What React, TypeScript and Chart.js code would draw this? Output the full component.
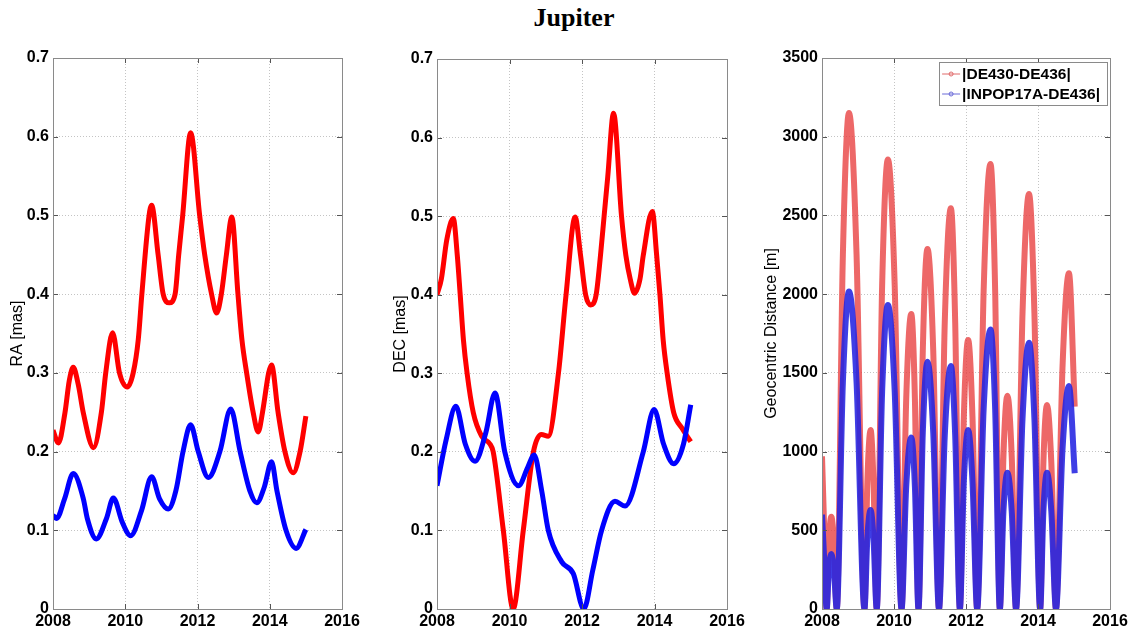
import React, { useEffect, useRef } from 'react';
import { Chart, registerables } from 'chart.js';

Chart.register(...registerables);

const chartTitle = 'Jupiter';

const xTicks = [2008, 2010, 2012, 2014, 2016];
const xTickLabels = ['2008', '2010', '2012', '2014', '2016'];
const masTicks = [0, 0.1, 0.2, 0.3, 0.4, 0.5, 0.6, 0.7];
const masTickLabels = ['0', '0.1', '0.2', '0.3', '0.4', '0.5', '0.6', '0.7'];
const distTicks = [0, 500, 1000, 1500, 2000, 2500, 3000, 3500];
const distTickLabels = ['0', '500', '1000', '1500', '2000', '2500', '3000', '3500'];

const seriesNames = ['|DE430-DE436|', '|INPOP17A-DE436|'];

// RA panel
const raRedYears = [2008.0, 2008.15, 2008.33, 2008.45, 2008.56, 2008.7, 2008.84, 2009.12, 2009.34, 2009.46, 2009.65, 2009.84, 2010.06, 2010.22, 2010.36, 2010.46, 2010.66, 2010.73, 2010.91, 2011.05, 2011.22, 2011.38, 2011.48, 2011.59, 2011.81, 2012.06, 2012.2, 2012.39, 2012.53, 2012.66, 2012.8, 2012.95, 2013.12, 2013.23, 2013.36, 2013.54, 2013.68, 2013.8, 2013.97, 2014.05, 2014.23, 2014.42, 2014.65, 2014.84, 2015.0];
const raRedValues = [0.227, 0.211, 0.249, 0.29, 0.307, 0.285, 0.249, 0.205, 0.25, 0.3, 0.351, 0.3, 0.282, 0.3, 0.342, 0.4, 0.5, 0.513, 0.45, 0.4, 0.389, 0.4, 0.45, 0.5, 0.605, 0.5, 0.45, 0.4, 0.376, 0.4, 0.45, 0.498, 0.4, 0.342, 0.3, 0.25, 0.225, 0.25, 0.3, 0.31, 0.25, 0.2, 0.173, 0.2, 0.245];
const raBlueYears = [2008.0, 2008.1, 2008.32, 2008.56, 2008.84, 2008.95, 2009.2, 2009.48, 2009.67, 2009.92, 2010.15, 2010.45, 2010.73, 2010.95, 2011.19, 2011.4, 2011.6, 2011.81, 2012.02, 2012.3, 2012.62, 2012.92, 2013.18, 2013.45, 2013.64, 2013.85, 2014.05, 2014.2, 2014.45, 2014.73, 2015.0];
const raBlueValues = [0.119, 0.115, 0.14, 0.172, 0.14, 0.115, 0.089, 0.115, 0.141, 0.11, 0.093, 0.125, 0.168, 0.14, 0.127, 0.15, 0.2, 0.234, 0.2, 0.167, 0.2, 0.254, 0.2, 0.15, 0.135, 0.155, 0.187, 0.15, 0.1, 0.077, 0.101];

// DEC panel
const decRedYears = [2008.0, 2008.12, 2008.27, 2008.45, 2008.56, 2008.64, 2008.73, 2008.83, 2009.0, 2009.23, 2009.46, 2009.55, 2009.83, 2010.1, 2010.38, 2010.66, 2010.88, 2011.07, 2011.35, 2011.56, 2011.81, 2011.96, 2012.1, 2012.24, 2012.39, 2012.51, 2012.61, 2012.71, 2012.87, 2013.09, 2013.21, 2013.33, 2013.45, 2013.6, 2013.69, 2013.94, 2014.06, 2014.15, 2014.24, 2014.35, 2014.53, 2014.76, 2015.0];
const decRedValues = [0.4, 0.42, 0.47, 0.497, 0.45, 0.4, 0.342, 0.3, 0.25, 0.22, 0.21, 0.2, 0.1, 0.0, 0.1, 0.2, 0.222, 0.22, 0.3, 0.4, 0.499, 0.45, 0.4, 0.387, 0.4, 0.45, 0.5, 0.55, 0.631, 0.5, 0.45, 0.42, 0.402, 0.42, 0.45, 0.506, 0.45, 0.4, 0.342, 0.3, 0.25, 0.23, 0.213];
const decBlueYears = [2008.0, 2008.25, 2008.52, 2008.78, 2009.05, 2009.35, 2009.6, 2009.87, 2010.25, 2010.5, 2010.68, 2010.89, 2011.07, 2011.44, 2011.76, 2012.05, 2012.3, 2012.54, 2012.91, 2013.19, 2013.69, 2013.99, 2014.25, 2014.53, 2014.8, 2015.0];
const decBlueValues = [0.157, 0.215, 0.258, 0.21, 0.188, 0.225, 0.275, 0.2, 0.157, 0.18, 0.196, 0.15, 0.1, 0.06, 0.045, 0.0, 0.05, 0.1, 0.137, 0.131, 0.2, 0.254, 0.21, 0.185, 0.21, 0.26];

// Geocentric distance panel
const distYears = [2008.0, 2008.06, 2008.13, 2008.19, 2008.26, 2008.33, 2008.41, 2008.58, 2008.75, 2008.96, 2009.18, 2009.26, 2009.35, 2009.43, 2009.52, 2009.67, 2009.83, 2010.02, 2010.21, 2010.34, 2010.48, 2010.58, 2010.68, 2010.8, 2010.93, 2011.09, 2011.25, 2011.41, 2011.58, 2011.7, 2011.83, 2011.94, 2012.06, 2012.18, 2012.31, 2012.49, 2012.68, 2012.81, 2012.94, 2013.04, 2013.15, 2013.27, 2013.39, 2013.57, 2013.75, 2013.9, 2014.06, 2014.15, 2014.25, 2014.37, 2014.5, 2014.68, 2014.86, 2015.02];
const distRedValues = [970, 520, 0, 420, 586, 420, 0, 2250, 3150, 2250, 0, 810, 1137, 810, 0, 2050, 2856, 2050, 0, 1340, 1874, 1340, 0, 1640, 2287, 1640, 0, 1820, 2545, 1820, 0, 1220, 1709, 1220, 0, 2020, 2827, 2020, 0, 970, 1355, 970, 0, 1880, 2636, 1880, 0, 930, 1296, 930, 0, 1530, 2132, 1285];
const distBlueValues = [600, 320, 0, 250, 349, 250, 0, 1440, 2016, 1440, 0, 450, 629, 450, 0, 1380, 1931, 1380, 0, 780, 1090, 780, 0, 1120, 1571, 1120, 0, 1100, 1544, 1100, 0, 810, 1137, 810, 0, 1270, 1775, 1270, 0, 620, 866, 620, 0, 1210, 1692, 1210, 0, 620, 866, 620, 0, 1010, 1416, 862];

const FONT = '"Liberation Sans", Arial, Helvetica, sans-serif';

const toPoints = (xs: number[], ys: number[]) => xs.map((x, i) => ({ x, y: ys[i] }));

const framePlugin = {
  id: 'matlabFrame',
  afterDatasetsDraw(chart: any) {
    const { ctx, chartArea: a, scales } = chart;
    ctx.save();
    ctx.strokeStyle = '#555';
    ctx.lineWidth = 1;
    const tl = 5;
    ctx.beginPath();
    scales.x.ticks.forEach((t: any) => {
      const px = Math.round(scales.x.getPixelForValue(t.value)) + 0.5;
      ctx.moveTo(px, a.bottom); ctx.lineTo(px, a.bottom - tl);
      ctx.moveTo(px, a.top); ctx.lineTo(px, a.top + tl);
    });
    scales.y.ticks.forEach((t: any) => {
      const py = Math.round(scales.y.getPixelForValue(t.value)) + 0.5;
      ctx.moveTo(a.left, py); ctx.lineTo(a.left + tl, py);
      ctx.moveTo(a.right, py); ctx.lineTo(a.right - tl, py);
    });
    ctx.stroke();
    ctx.strokeStyle = '#8a8a8a';
    ctx.strokeRect(Math.round(a.left) + 0.5, Math.round(a.top) + 0.5, Math.round(a.right - a.left), Math.round(a.bottom - a.top));
    ctx.restore();
  },
};

const legendPlugin = {
  id: 'boxLegend',
  afterDraw(chart: any) {
    const { ctx, chartArea: a } = chart;
    const ds = chart.data.datasets;
    const items = [ds[1], ds[0]]; // red first, blue second
    ctx.save();
    ctx.font = `bold 15.5px ${FONT}`;
    const maxW = Math.max(...items.map((d: any) => ctx.measureText(d.label).width));
    const w = 24 + maxW + 6;
    const h = 43;
    const right = a.right - 3;
    const left = right - w;
    const top = a.top + 4;
    ctx.fillStyle = '#fff';
    ctx.fillRect(left, top, w, h);
    ctx.strokeStyle = '#8a8a8a';
    ctx.lineWidth = 1;
    ctx.strokeRect(Math.round(left) + 0.5, Math.round(top) + 0.5, Math.round(w), h);
    items.forEach((d: any, i: number) => {
      const cy = top + 12 + i * 20;
      ctx.strokeStyle = d.legendColor;
      ctx.lineWidth = 1;
      ctx.beginPath();
      ctx.moveTo(left + 3, cy);
      ctx.lineTo(left + 21, cy);
      ctx.stroke();
      ctx.beginPath();
      ctx.arc(left + 12, cy, 2, 0, Math.PI * 2);
      ctx.stroke();
      ctx.fillStyle = '#000';
      ctx.textBaseline = 'middle';
      ctx.textAlign = 'left';
      ctx.fillText(d.label, left + 23, cy + 1);
    });
    ctx.restore();
  },
};

type Series = { label: string; xs: number[]; ys: number[]; color: string; legendColor: string; width: number; order: number };
type PanelSpec = {
  left: number; width: number; yTitle: string; yTicks: number[]; yLabels: string[]; yMax: number;
  yWidth: number; padTop: number; padRight: number; titlePad: number; series: Series[]; legend?: boolean;
};

function Panel({ spec }: { spec: PanelSpec }) {
  const ref = useRef<HTMLCanvasElement | null>(null);
  useEffect(() => {
    if (!ref.current) return;
    const tickFont = { family: FONT, size: 16, weight: 'bold' as const };
    const chart = new Chart(ref.current, {
      type: 'line',
      data: {
        datasets: spec.series.map((s) => ({
          label: s.label,
          data: toPoints(s.xs, s.ys),
          borderColor: s.color,
          backgroundColor: s.color,
          borderWidth: s.width,
          pointRadius: 0,
          fill: false,
          cubicInterpolationMode: 'monotone' as const,
          order: s.order,
          legendColor: s.legendColor,
        })) as any,
      },
      options: {
        responsive: false,
        animation: false,
        devicePixelRatio: 1,
        events: [],
        layout: { padding: { left: 0, top: spec.padTop, right: spec.padRight, bottom: 0 } },
        plugins: { legend: { display: false }, tooltip: { enabled: false }, title: { display: false } },
        scales: {
          x: {
            type: 'linear',
            min: 2008,
            max: 2016,
            afterBuildTicks: (s: any) => { s.ticks = xTicks.map((value) => ({ value })); },
            afterFit: (s: any) => { s.height = 22; },
            grid: { color: '#c4c4c4', lineWidth: 1, drawTicks: false },
            border: { display: false, dash: [1, 2] },
            ticks: { padding: 3, color: '#000', font: tickFont, maxRotation: 0, autoSkip: false, callback: (_v: any, i: number) => xTickLabels[i] },
          },
          y: {
            type: 'linear',
            min: 0,
            max: spec.yMax,
            afterBuildTicks: (s: any) => { s.ticks = spec.yTicks.map((value) => ({ value })); },
            afterFit: (s: any) => { s.width = spec.yWidth; },
            grid: { color: '#c4c4c4', lineWidth: 1, drawTicks: false },
            border: { display: false, dash: [1, 2] },
            ticks: { padding: 4, color: '#000', font: tickFont, autoSkip: false, callback: (_v: any, i: number) => spec.yLabels[i] },
            title: { display: true, text: spec.yTitle, color: '#000', font: { family: FONT, size: 16 }, padding: { top: spec.titlePad, bottom: 0 } },
          },
        },
      } as any,
      plugins: spec.legend ? [framePlugin, legendPlugin] : [framePlugin],
    });
    return () => chart.destroy();
  }, [spec]);
  return (
    <canvas
      ref={ref}
      width={spec.width}
      height={591}
      style={{ position: 'absolute', left: spec.left, top: 40, width: spec.width, height: 591 }}
    />
  );
}

const RED = '#ff0000';
const BLUE = '#0000ff';

const panels: PanelSpec[] = [
  {
    left: 0, width: 380, yTitle: 'RA [mas]', yTicks: masTicks, yLabels: masTickLabels, yMax: 0.7,
    yWidth: 53, padTop: 18, padRight: 38, titlePad: 8.4,
    series: [
      { label: seriesNames[1], xs: raBlueYears, ys: raBlueValues, color: BLUE, legendColor: BLUE, width: 5, order: 0 },
      { label: seriesNames[0], xs: raRedYears, ys: raRedValues, color: RED, legendColor: RED, width: 5, order: 1 },
    ],
  },
  {
    left: 380, width: 380, yTitle: 'DEC [mas]', yTicks: masTicks, yLabels: masTickLabels, yMax: 0.7,
    yWidth: 57, padTop: 19, padRight: 33, titlePad: 11.2,
    series: [
      { label: seriesNames[1], xs: decBlueYears, ys: decBlueValues, color: BLUE, legendColor: BLUE, width: 5, order: 0 },
      { label: seriesNames[0], xs: decRedYears, ys: decRedValues, color: RED, legendColor: RED, width: 5, order: 1 },
    ],
  },
  {
    left: 753, width: 380, yTitle: 'Geocentric Distance [m]', yTicks: distTicks, yLabels: distTickLabels, yMax: 3500,
    yWidth: 69, padTop: 18, padRight: 23, titlePad: 8.7, legend: true,
    series: [
      { label: seriesNames[1], xs: distYears, ys: distBlueValues, color: 'rgba(35,35,225,0.88)', legendColor: '#6a6ad8', width: 6, order: 0 },
      { label: seriesNames[0], xs: distYears, ys: distRedValues, color: 'rgba(232,62,62,0.78)', legendColor: '#e06a6a', width: 6, order: 1 },
    ],
  },
];

export default function App() {
  return (
    <div style={{ position: 'absolute', left: 0, top: 0, width: 1133, height: 631, background: '#fff', overflow: 'hidden' }}>
      <div
        style={{
          position: 'absolute', left: 574, top: 5, transform: 'translateX(-50%)',
          fontFamily: '"Liberation Serif", "Times New Roman", serif', fontWeight: 'bold', fontSize: 26, lineHeight: '26px',
          whiteSpace: 'nowrap', color: '#000',
        }}
      >
        {chartTitle}
      </div>
      {panels.map((p, i) => <Panel key={i} spec={p} />)}
    </div>
  );
}
